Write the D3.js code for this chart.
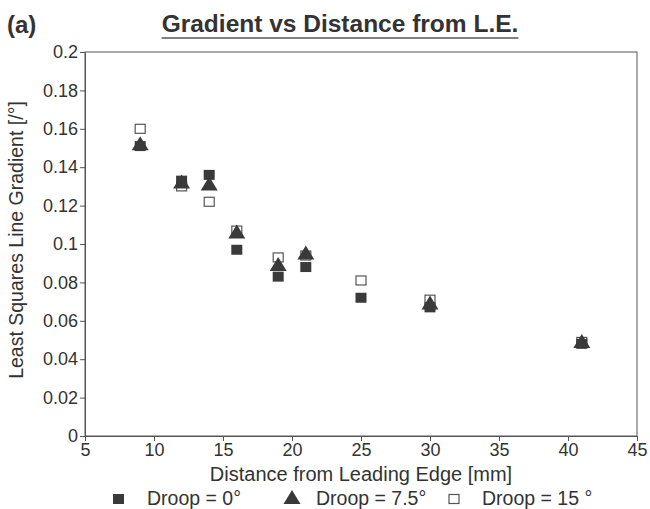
<!DOCTYPE html>
<html>
<head>
<meta charset="utf-8">
<script src="https://cdn.jsdelivr.net/npm/d3@7"></script>
<style>
  body { margin: 0; background: #fff; }
  text { font-family: "Liberation Sans", Arial, sans-serif; fill: #333; }
</style>
</head>
<body>
<svg id="chart" width="650" height="509"></svg>
<script>
// distances from leading edge [mm]
const distance0  = [9, 12, 14, 16, 19, 21, 25, 30, 41];
const droop0     = [0.151, 0.133, 0.136, 0.097, 0.083, 0.088, 0.072, 0.067, 0.048];
const distance75 = [9, 12, 14, 16, 19, 21, 30, 41];
const droop75    = [0.152, 0.132, 0.131, 0.106, 0.089, 0.095, 0.069, 0.049];
const distance15 = [9, 12, 14, 16, 19, 21, 25, 30, 41];
const droop15    = [0.160, 0.130, 0.122, 0.107, 0.093, 0.094, 0.081, 0.071, 0.049];
const xTicks = [5, 10, 15, 20, 25, 30, 35, 40, 45];
const yTicks = [0, 0.02, 0.04, 0.06, 0.08, 0.1, 0.12, 0.14, 0.16, 0.18, 0.2];
const legendLabels = ["Droop = 0°", "Droop = 7.5°", "Droop = 15 °"];

const svg = d3.select("#chart");
const margin = {top: 52, right: 13, bottom: 73, left: 85};
const width = 650 - margin.left - margin.right,
      height = 509 - margin.top - margin.bottom;
const ink = "#3a3a3a";

const x = d3.scaleLinear().domain([5, 45]).range([margin.left, margin.left + width]);
const y = d3.scaleLinear().domain([0, 0.2]).range([margin.top + height, margin.top]);

// frame
svg.append("rect")
    .attr("x", margin.left).attr("y", margin.top)
    .attr("width", width).attr("height", height)
    .attr("fill", "none").attr("stroke", "#555").attr("stroke-width", 1);

let xAxis = svg.append("g")
    .attr("transform", `translate(0,${margin.top + height})`)
    .call(d3.axisBottom(x).tickValues(xTicks).tickSize(5).tickPadding(2).tickFormat(d3.format("d")));
let yAxis = svg.append("g")
    .attr("transform", `translate(${margin.left},0)`)
    .call(d3.axisLeft(y).tickValues(yTicks).tickSize(5).tickPadding(2).tickFormat(d => d3.format("~g")(d)));
[xAxis, yAxis].forEach(a => {
    a.attr("font-size", 18).attr("font-family", "'Liberation Sans', Arial, sans-serif");
    a.select(".domain").attr("stroke", "#555");
    a.selectAll(".tick line").attr("stroke", "#555");
    a.selectAll(".tick text").attr("fill", "#333");
});

// markers
const sq = 11, sqh = 10;
function filledSquare(g, cx, cy) {
    g.append("rect").attr("x", cx - sq / 2).attr("y", cy - sqh / 2)
        .attr("width", sq).attr("height", sqh).attr("fill", ink);
}
function openSquare(g, cx, cy) {
    g.append("rect").attr("x", cx - sq / 2 + 0.5).attr("y", cy - sqh / 2 + 0.5)
        .attr("width", sq - 1).attr("height", sqh - 1)
        .attr("fill", "#fff").attr("stroke", "#555").attr("stroke-width", 1.2);
}
function triangle(g, cx, cy) {
    g.append("path")
        .attr("d", `M${cx},${cy - 8}L${cx + 8.5},${cy + 6}L${cx - 8.5},${cy + 6}Z`)
        .attr("fill", ink);
}

const pts = svg.append("g");
distance15.forEach((d, i) => openSquare(pts, x(d), y(droop15[i])));
distance0.forEach((d, i) => filledSquare(pts, x(d), y(droop0[i])));
distance75.forEach((d, i) => triangle(pts, x(d), y(droop75[i])));

// titles
svg.append("text").attr("x", 7).attr("y", 33)
    .attr("font-size", 24).attr("font-weight", "bold").attr("fill", "#333").text("(a)");
const title = svg.append("text").attr("x", 340).attr("y", 32)
    .attr("text-anchor", "middle").attr("font-size", 24.5).attr("font-weight", "bold")
    .attr("fill", "#4a4a4a").text("Gradient vs Distance from L.E.");
const tb = title.node().getBBox();
svg.append("line").attr("x1", tb.x).attr("x2", tb.x + tb.width)
    .attr("y1", 38).attr("y2", 38).attr("stroke", "#555").attr("stroke-width", 1.5);

svg.append("text")
    .attr("transform", `translate(23,${y(0.1) - 4}) rotate(-90)`)
    .attr("text-anchor", "middle").attr("font-size", 19.5)
    .text("Least Squares Line Gradient [/°]");

svg.append("text").attr("x", x(25)).attr("y", 481)
    .attr("text-anchor", "middle").attr("font-size", 20)
    .text("Distance from Leading Edge [mm]");

// legend
const legend = svg.append("g");
const legendX = [118.5, 292, 454];
const textX = [147, 316, 482];
filledSquare(legend, legendX[0], 499);
triangle(legend, legendX[1], 498);
openSquare(legend, legendX[2], 499);
legendLabels.forEach((l, i) => {
    legend.append("text").attr("x", textX[i]).attr("y", 505)
        .attr("font-size", 19.5).text(l);
});
</script>
</body>
</html>
